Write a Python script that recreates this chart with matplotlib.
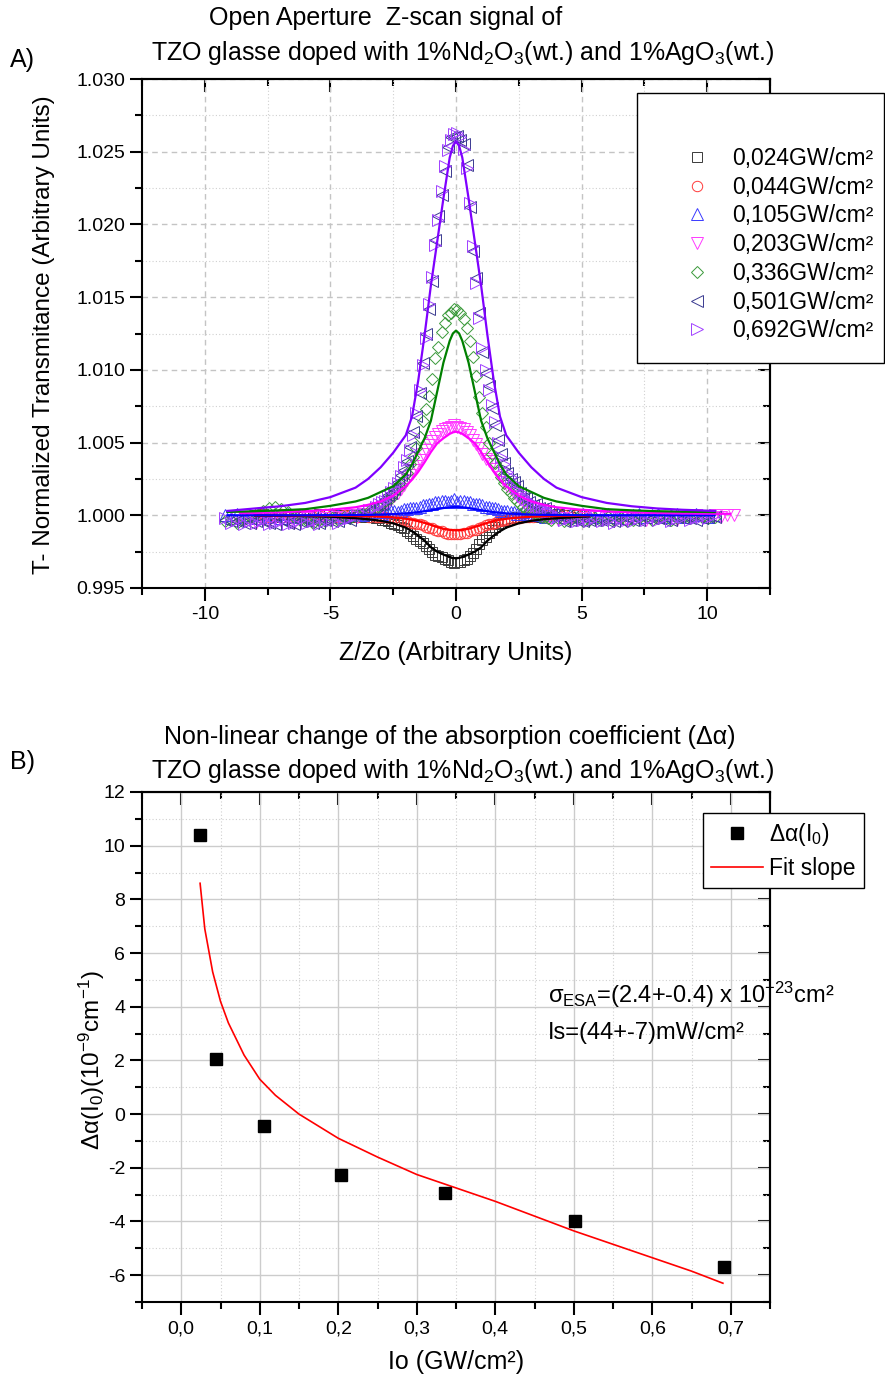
import matplotlib
matplotlib.use('Agg')
import matplotlib.pyplot as plt
import numpy as np
from matplotlib.ticker import MultipleLocator, FormatStrFormatter, FuncFormatter
from matplotlib.patches import Rectangle

plt.rcParams['font.family'] = ['Liberation Sans', 'DejaVu Sans']
plt.rcParams['mathtext.fontset'] = 'custom'
plt.rcParams['mathtext.rm'] = 'Liberation Sans'
plt.rcParams['mathtext.it'] = 'Liberation Sans:italic'
plt.rcParams['mathtext.default'] = 'regular'
plt.rcParams['axes.unicode_minus'] = False

# ---- A) open aperture z-scan, transmittance excess in units of 1e-3 ----
z_scan = np.round(-9.2 + 0.25 * np.arange(82), 2)   # scan positions Z/Zo
z_half = z_scan[24:52] + 0.125                      # in-between positions near focus

labels_a = ['0,024GW/cm²', '0,044GW/cm²', '0,105GW/cm²', '0,203GW/cm²',
            '0,336GW/cm²', '0,501GW/cm²', '0,692GW/cm²']

v024 = [0.0, 0.1, 0.0, -0.1, 0.0,
        0.1, 0.0, -0.1, 0.0, 0.0, 0.1, 0.0, -0.1, 0.0, 0.0,
        -0.1, 0.0, -0.1, -0.1, -0.2, -0.3, -0.4, -0.6, -0.8, -1.1,
        -1.4, -1.8, -2.1, -2.5, -2.8, -3.0, -3.2, -3.2, -3.1, -2.8,
        -2.3, -1.7, -1.2, -0.8, -0.5, -0.3, -0.2, -0.1, -0.1, 0.0,
        -0.1, 0.0, 0.0, 0.1, 0.0, -0.1, 0.0, 0.0, 0.0]
v044 = [0.0, 0.1, -0.1, 0.0, 0.1,
        -0.1, 0.0, 0.1, 0.0, -0.1, 0.0, 0.1, 0.0, -0.1, 0.0,
        0.0, -0.1, 0.0, -0.1, -0.1, -0.1, -0.2, -0.2, -0.3, -0.4,
        -0.5, -0.6, -0.8, -0.9, -1.1, -1.2, -1.3, -1.3, -1.2, -1.1,
        -1.0, -0.8, -0.6, -0.5, -0.4, -0.3, -0.2, -0.2, -0.1, -0.1,
        0.0, -0.1, 0.0, 0.1, 0.0, -0.1, 0.0, 0.0, 0.0]
v105 = [0.0, -0.2, 0.1, -0.1, 0.0, -0.2, 0.1, -0.1, 0.0, -0.2,
        0.1, -0.1, 0.0, 0.1, -0.1, 0.0, -0.2, 0.1, 0.0, -0.1,
        0.0, 0.1, 0.0, 0.1, 0.2, 0.1, 0.2, 0.3, 0.3, 0.4,
        0.5, 0.6, 0.7, 0.8, 0.9, 1.0, 1.0, 0.9, 1.0, 0.9,
        0.8, 0.7, 0.6, 0.5, 0.3, 0.3, 0.2, 0.1, 0.1, 0.0,
        0.1, -0.1, 0.0, 0.1, -0.1, 0.0, -0.1, 0.1, 0.0, -0.1,
        0.0, 0.1, -0.1, 0.0, -0.2, 0.0, 0.1, -0.1, 0.0, 0.1,
        -0.1, 0.0, 0.1, -0.1, 0.0, 0.1, 0.0, -0.1, 0.0]
v203 = [-0.2, -0.4, -0.3, -0.5, -0.3, -0.4, -0.2, -0.4,
        -0.3, -0.5, -0.3, -0.2, -0.4, -0.3, -0.2, -0.3, -0.1, -0.2,
        0.0, -0.1, 0.1, 0.2, 0.4, 0.6, 0.9, 1.3, 1.8, 2.4,
        3.1, 3.8, 4.5, 5.1, 5.6, 5.9, 6.1, 6.1, 5.9, 5.5,
        4.9, 4.2, 3.7, 3.2, 2.6, 2.0, 1.5, 1.1, 0.7, 0.4,
        0.1, -0.1, -0.2, -0.3, -0.2, -0.4, -0.3, -0.2, -0.3, -0.1,
        -0.3, -0.2, -0.4, -0.2, -0.3, -0.1, -0.2, -0.3, -0.1, -0.2,
        -0.2, -0.1, -0.3, -0.1, -0.2, 0.0, -0.1, -0.1, 0.0, -0.1,
        0.0, 0.0]
v336 = [-0.4, -0.3, -0.5, -0.2, -0.1, 0.1, 0.3, 0.5, 0.6, 0.4,
        0.2, -0.1, -0.3, -0.4, -0.5, -0.3, -0.4, -0.2, -0.3, -0.1,
        -0.2, 0.0, 0.1, 0.3, 0.5, 0.8, 1.1, 1.5, 2.1, 2.9,
        4.0, 5.4, 7.3, 9.4, 11.6, 13.2, 13.9, 14.1, 13.5, 12.0,
        9.6, 7.0, 5.0, 3.6, 2.6, 1.8, 1.2, 0.8, 0.4, 0.2,
        0.0, -0.1, -0.3, -0.2, -0.4, -0.3, -0.2, -0.4, -0.3, -0.2,
        -0.3, -0.1, -0.3, -0.2, -0.4, -0.3, -0.2, -0.1, -0.3, -0.2,
        -0.1, -0.3, -0.2, -0.1, -0.2, 0.0, -0.1, -0.2, -0.1]
v501 = [-0.3, -0.4, -0.4, -0.5, -0.5, -0.4, -0.4, -0.5, -0.6, -0.3,
        -0.5, -0.6, -0.4, -0.4, -0.5, -0.5, -0.3, -0.4, -0.4, -0.2,
        -0.3, 0.1, 0.0, 0.3, 0.7, 0.8, 1.4, 1.8, 2.8, 3.7,
        5.7, 8.4, 12.5, 16.1, 20.6, 23.7, 26.0, 26.1, 25.5, 21.2,
        16.3, 11.2, 8.9, 6.2, 4.2, 2.9, 2.3, 1.5, 1.2, 0.7,
        0.5, 0.5, 0.1, 0.0, -0.4, -0.3, -0.3, -0.4, -0.3, -0.3,
        -0.3, -0.4, -0.4, -0.3, -0.2, -0.3, -0.3, -0.2, -0.2, -0.2,
        -0.3, -0.3, -0.1, -0.2, -0.2, -0.3, -0.2, -0.1, -0.1]
v692 = [-0.2, -0.5, -0.3, -0.6, -0.4, -0.5, -0.3, -0.6, -0.5, -0.4,
        -0.6, -0.5, -0.3, -0.5, -0.4, -0.6, -0.4, -0.3, -0.5, -0.3,
        -0.2, 0.0, 0.1, 0.35, 0.6, 0.9, 1.3, 1.9, 2.7, 3.8,
        5.5, 8.6, 12.2, 16.4, 20.3, 24.0, 25.8, 26.3, 25.2, 21.5,
        16.0, 11.5, 8.6, 6.4, 4.0, 3.0, 2.2, 1.6, 1.1, 0.8,
        0.6, 0.4, 0.2, -0.1, -0.3, -0.2, -0.4, -0.3, -0.4, -0.2,
        -0.4, -0.3, -0.5, -0.2, -0.3, -0.4, -0.2, -0.3, -0.1, -0.3,
        -0.2, -0.4, -0.2, -0.1, -0.3, -0.2, -0.1, -0.2, 0.0]

# readings at the in-between positions (z_half)
h024 = [-0.2, -0.3, -0.5, -0.7, -0.9, -1.2, -1.6, -1.9, -2.3, -2.7, -2.9, -3.1,
        -3.3, -3.2, -3.0, -2.6, -2.0, -1.5, -1.0, -0.6, -0.4, -0.2, -0.1, -0.1,
        0.0, 0.0, -0.1, 0.0]
h044 = [-0.1, -0.1, -0.2, -0.3, -0.3, -0.5, -0.6, -0.7, -0.9, -1.0, -1.1, -1.3,
        -1.3, -1.3, -1.2, -1.0, -0.9, -0.7, -0.6, -0.4, -0.3, -0.3, -0.2, -0.1,
        -0.1, 0.0, 0.0, 0.0]
h105 = [0.1, 0.2, 0.3, 0.2, 0.4, 0.5, 0.5, 0.7, 0.8, 0.9, 1.0, 0.9, 1.1, 1.0,
        0.9, 0.8, 0.8, 0.6, 0.5, 0.4, 0.3, 0.2, 0.1, 0.2, 0.0, 0.1, 0.0, -0.1]
h203 = [0.5, 0.8, 1.1, 1.5, 2.1, 2.8, 3.4, 4.2, 4.8, 5.4, 5.8, 6.0, 6.2, 6.0,
        5.7, 5.2, 4.6, 3.9, 3.5, 2.9, 2.3, 1.8, 1.3, 0.9, 0.6, 0.2, 0.0, -0.2]
h336 = [0.6, 1.0, 1.2, 1.9, 2.4, 3.5, 4.6, 6.5, 8.2, 10.8, 12.6, 13.8, 14.2,
        13.9, 12.9, 10.9, 8.1, 6.1, 4.2, 3.1, 2.2, 1.5, 1.0, 0.6, 0.3, 0.1,
        -0.1, -0.2]
h501 = [0.7, 1.1, 1.5, 2.3, 3.1, 4.7, 6.8, 10.5, 14.2, 18.9, 22.0, 25.3, 26.0,
        25.8, 24.1, 18.2, 13.9, 9.8, 7.4, 5.2, 3.6, 2.5, 2.0, 1.2, 0.9, 0.8, 0.4,
        0.3]
h692 = [0.8, 1.0, 1.6, 2.2, 3.3, 4.5, 7.0, 10.3, 14.5, 18.6, 22.3, 25.1, 26.2,
        26.0, 23.9, 18.5, 13.6, 10.0, 7.6, 5.0, 3.5, 2.6, 1.9, 1.3, 1.0, 0.7, 0.5,
        0.2]

# fit curves (same units)
fz_long = [-9.1, -8, -7, -6, -5, -4, -3.5, -3, -2.5, -2, -1.75, -1.5, -1.25, -1,
           -0.75, -0.5, -0.25, -0.125, 0, 0.125, 0.25, 0.5, 0.75, 1, 1.25, 1.5,
           1.75, 2, 2.5, 3, 3.5, 4, 5, 6, 7, 8, 9, 10.3]
fz_mag = [-8.6, -8, -7, -6, -5, -4, -3.5, -3, -2.5, -2, -1.75, -1.5, -1.25, -1,
          -0.75, -0.5, -0.25, -0.125, 0, 0.125, 0.25, 0.5, 0.75, 1, 1.25, 1.5,
          1.75, 2, 2.5, 3, 3.5, 4, 5, 6, 7, 8, 9, 10.9]
fz_short = [-8, -7, -6, -5, -4, -3.5, -3, -2.5, -2, -1.75, -1.5, -1.25, -1,
            -0.75, -0.5, -0.25, -0.125, 0, 0.125, 0.25, 0.5, 0.75, 1, 1.25, 1.5,
            1.75, 2, 2.5, 3, 3.5, 4, 5, 5.3]
fit024 = [-0.03, -0.04, -0.06, -0.10, -0.20, -0.27, -0.38, -0.55, -0.85, -1.10,
          -1.40, -1.75, -2.20, -2.50, -2.70, -2.87, -2.93, -2.96, -2.93, -2.87,
          -2.70, -2.50, -2.20, -1.75, -1.40, -1.10, -0.85, -0.55, -0.38, -0.27,
          -0.20, -0.10, -0.08]
fit044 = [-0.01, -0.01, -0.02, -0.03, -0.05, -0.07, -0.10, -0.15, -0.24, -0.31,
          -0.40, -0.52, -0.66, -0.80, -0.93, -1.00, -1.02, -1.03, -1.02, -1.00,
          -0.93, -0.80, -0.66, -0.52, -0.40, -0.31, -0.24, -0.15, -0.10, -0.07,
          -0.05, -0.03, -0.02]
fit105 = [0.0, 0.0, 0.0, 0.0, 0.01, 0.02, 0.03, 0.05, 0.08, 0.13, 0.17, 0.22, 0.28,
          0.35, 0.42, 0.50, 0.55, 0.56, 0.57, 0.56, 0.55, 0.50, 0.42, 0.35, 0.28,
          0.22, 0.17, 0.13, 0.08, 0.05, 0.03, 0.02, 0.01, 0.0, 0.0, 0.0, 0.0, 0.0]
fit203 = [0.15, 0.16, 0.20, 0.28, 0.38, 0.55, 0.72, 0.95, 1.35, 2.00, 2.45, 3.00,
          3.65, 4.35, 4.95, 5.30, 5.60, 5.70, 5.75, 5.70, 5.60, 5.30, 4.95, 4.35,
          3.65, 3.00, 2.45, 2.00, 1.35, 0.95, 0.72, 0.55, 0.38, 0.28, 0.20, 0.16,
          0.13, 0.10]
fit336 = [0.23, 0.28, 0.34, 0.42, 0.65, 0.95, 1.20, 1.60, 2.00, 2.80, 3.50, 4.40,
          5.30, 6.50, 8.50, 10.50, 12.00, 12.50, 12.70, 12.50, 12.00, 10.50, 8.50,
          6.50, 5.30, 4.40, 3.50, 2.80, 2.00, 1.60, 1.20, 0.95, 0.65, 0.42, 0.34,
          0.28, 0.25, 0.22]
fit692 = [0.30, 0.47, 0.62, 0.85, 1.25, 1.90, 2.50, 3.30, 4.30, 5.50, 6.80, 9.30,
          12.40, 15.80, 18.80, 21.80, 24.60, 25.40, 25.70, 25.40, 24.60, 21.80,
          18.80, 15.80, 12.40, 9.30, 6.80, 5.50, 4.30, 3.30, 2.50, 1.90, 1.25,
          0.85, 0.62, 0.47, 0.38, 0.30]

# ---- B) non-linear absorption change ----
io = [0.024, 0.044, 0.105, 0.203, 0.336, 0.501, 0.692]
d_alpha = [10.4, 2.05, -0.45, -2.25, -2.95, -4.0, -5.7]
fit_io = [0.024, 0.03, 0.04, 0.05, 0.06, 0.08, 0.1, 0.12, 0.15, 0.2, 0.25, 0.3,
          0.35, 0.4, 0.45, 0.5, 0.55, 0.6, 0.65, 0.69]
fit_da = [8.6, 6.9, 5.3, 4.2, 3.4, 2.2, 1.3, 0.7, 0.0, -0.9, -1.6, -2.25, -2.75,
          -3.25, -3.8, -4.35, -4.85, -5.35, -5.85, -6.3]

W, H = 885, 1382
def fx(x):
    return x / W
def fy(y):
    return 1 - y / H


def style_axes(ax, xmaj, xmin, ymaj, ymin, dashed_major):
    ax.xaxis.set_major_locator(MultipleLocator(xmaj))
    ax.xaxis.set_minor_locator(MultipleLocator(xmin))
    ax.yaxis.set_major_locator(MultipleLocator(ymaj))
    ax.yaxis.set_minor_locator(MultipleLocator(ymin))
    ax.tick_params(which='both', direction='out', width=1.5, labelsize=14,
                   top=False, right=False)
    ax.tick_params(which='major', length=9)
    ax.tick_params(which='minor', length=5)
    ax.tick_params(axis='x', pad=4)
    ax.tick_params(axis='y', pad=3)
    for s in ax.spines.values():
        s.set_linewidth(1.5)
    if dashed_major:
        ax.grid(which='major', ls=(0, (4, 3)), color='#c4c4c4', lw=1.0)
    else:
        ax.grid(which='major', ls='-', color='#cccccc', lw=1.0)
    ax.grid(which='minor', ls=(0, (1, 2)), color='#d0d0d0', lw=0.8)
    ax.set_axisbelow(True)
    sx = ax.secondary_xaxis('top')
    sx.xaxis.set_major_locator(MultipleLocator(xmaj))
    sx.xaxis.set_minor_locator(MultipleLocator(xmin))
    sx.tick_params(which='both', direction='in', width=1.5, labeltop=False)
    sx.tick_params(which='major', length=9)
    sx.tick_params(which='minor', length=5)
    sx.spines['top'].set_linewidth(1.5)
    sy = ax.secondary_yaxis('right')
    sy.yaxis.set_major_locator(MultipleLocator(ymaj))
    sy.yaxis.set_minor_locator(MultipleLocator(ymin))
    sy.tick_params(which='both', direction='in', width=1.5, labelright=False)
    sy.tick_params(which='major', length=9)
    sy.tick_params(which='minor', length=5)
    sy.spines['right'].set_linewidth(1.5)


fig = plt.figure(figsize=(W / 100, H / 100), dpi=100)

# ================= panel A =================
ax1 = fig.add_axes([fx(142), fy(588), fx(770) - fx(142), fy(79) - fy(588)])

series = [
    (z_scan[5:59], v024, h024, 's', '#3a3a3a', 6.5),
    (z_scan[5:59], v044, h044, 'o', '#ff3a3a', 7.5),
    (z_scan[0:79], v105, h105, '^', '#3a3aff', 8.5),
    (z_scan[2:82], v203, h203, 'v', '#ff3aff', 8.5),
    (z_scan[0:79], v336, h336, 'D', '#3a9a3a', 6.5),
    (z_scan[0:79], v501, h501, '<', '#3a3a90', 8.5),
    (z_scan[0:79], v692, h692, '>', '#a040ff', 8.5),
]
handles = []
for (z, v, hv, m, c, ms), lab in zip(series, labels_a):
    zz = np.concatenate([z, z_half])
    tt = 1 + np.concatenate([v, hv]) * 1e-3
    h, = ax1.plot(zz, tt, ls='none', marker=m, ms=ms, mfc='none', mec=c,
                  mew=0.7, label=lab, zorder=2)
    handles.append(h)

fits = [
    (fz_short, fit024, '#000000'),
    (fz_short, fit044, '#ff0000'),
    (fz_long, fit105, '#0000ff'),
    (fz_mag, fit203, '#ff00ff'),
    (fz_long, fit336, '#008000'),
    (fz_long, fit692, '#7f00ff'),
]
for fz, fv, c in fits:
    ax1.plot(fz, 1 + np.array(fv) * 1e-3, color=c, lw=1.6, zorder=3)

ax1.set_xlim(-12.5, 12.5)
ax1.set_ylim(0.995, 1.030)
style_axes(ax1, 5, 2.5, 0.005, 0.0025, True)
ax1.yaxis.set_major_formatter(FormatStrFormatter('%.3f'))

# legend box reaching the figure edge
fig.add_artist(Rectangle((fx(637), fy(363)), fx(883.5) - fx(637), fy(93) - fy(363),
                         transform=fig.transFigure, facecolor='white',
                         edgecolor='black', lw=1.0, zorder=5))
leg1 = fig.legend(handles, labels_a, loc='upper left',
                  bbox_to_anchor=(fx(686), fy(147)), bbox_transform=fig.transFigure,
                  frameon=False, fontsize=16.5, handlelength=1.0,
                  handletextpad=1.0, labelspacing=0.25, borderpad=0,
                  borderaxespad=0)
leg1.set_zorder(6)

fig.text(fx(386), fy(18), 'Open Aperture  Z-scan signal of', ha='center',
         va='center', fontsize=18)
fig.text(fx(463), fy(60), 'TZO glasse doped with 1%Nd$_2$O$_3$(wt.) and 1%AgO$_3$(wt.)',
         ha='center', va='baseline', fontsize=18)
fig.text(fx(10), fy(60), 'A)', ha='left', va='center', fontsize=18)
fig.text(fx(456), fy(653), 'Z/Zo (Arbitrary Units)', ha='center', va='center',
         fontsize=18)
fig.text(fx(44), fy(335), 'T- Normalized Transmitance (Arbitrary Units)',
         rotation=90, ha='center', va='center', fontsize=17.5)

# ================= panel B =================
ax2 = fig.add_axes([fx(142), fy(1302), fx(770) - fx(142), fy(792) - fy(1302)])
h_pts, = ax2.plot(io, d_alpha, ls='none', marker='s', ms=8, color='black', zorder=3)
h_fit, = ax2.plot(fit_io, fit_da, color='#ff0000', lw=1.2, zorder=2)
ax2.set_xlim(-0.05, 0.75)
ax2.set_ylim(-7, 12)
style_axes(ax2, 0.1, 0.05, 2, 1, False)
ax2.xaxis.set_major_formatter(FuncFormatter(lambda v, p: f'{v:.1f}'.replace('.', ',')))
ax2.yaxis.set_major_formatter(FuncFormatter(lambda v, p: f'{v:.0f}'))

leg2 = fig.legend([h_pts, h_fit], ['Δα(I$_0$)', 'Fit slope'], loc='upper right',
                  bbox_to_anchor=(fx(864), fy(813)), bbox_transform=fig.transFigure,
                  fontsize=16.5, handlelength=2.26, handletextpad=0.3,
                  labelspacing=0.4, borderpad=0.35, borderaxespad=0,
                  fancybox=False, edgecolor='black', framealpha=1)
leg2.get_frame().set_linewidth(1.0)
leg2.set_zorder(6)

fig.text(fx(548), fy(995), 'σ$_{ESA}$=(2.4+-0.4) x 10$^{-23}$cm²', ha='left',
         va='center', fontsize=17)
fig.text(fx(548), fy(1033), 'Is=(44+-7)mW/cm²', ha='left', va='center', fontsize=17)

fig.text(fx(450), fy(737), 'Non-linear change of the absorption coefficient (Δα)',
         ha='center', va='center', fontsize=18)
fig.text(fx(463), fy(778), 'TZO glasse doped with 1%Nd$_2$O$_3$(wt.) and 1%AgO$_3$(wt.)',
         ha='center', va='baseline', fontsize=18)
fig.text(fx(10), fy(762), 'B)', ha='left', va='center', fontsize=18)
fig.text(fx(456), fy(1362), 'Io (GW/cm²)', ha='center', va='center', fontsize=18)
fig.text(fx(92), fy(1060), 'Δα(I$_0$)(10$^{-9}$cm$^{-1}$)', rotation=90,
         ha='center', va='center', fontsize=17.5)

fig.savefig('out.png', dpi=100)
